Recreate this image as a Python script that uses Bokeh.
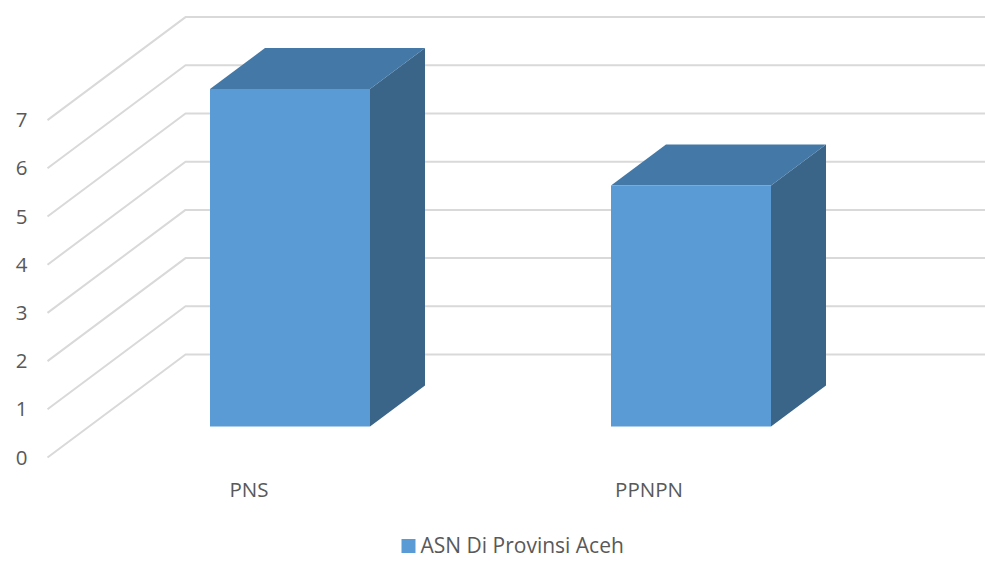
from bokeh.plotting import figure
from bokeh.embed import file_html
from bokeh.resources import INLINE
from bokeh.core.properties import value

categories = ["PNS", "PPNPN"]
series_values = [7, 5]
series_name = "ASN Di Provinsi Aceh"
tick_values = [0, 1, 2, 3, 4, 5, 6, 7]

# scale: one category step = 401 px, one value unit = 48.2 px
CAT_PX = 401.0
VAL_PX = 48.2
X0 = 289.5   # picture px of first category
Y0 = 426.0   # picture px of value 0 at bar front
W, H = 985, 563

def cx(px):
    return (px - X0) / CAT_PX

def vy(py):
    return (Y0 - py) / VAL_PX

half = 80.0 / CAT_PX
bar_dx = 55 / CAT_PX
bar_dy = 41 / VAL_PX
wall_x = cx(185)
front_x = cx(47)
front_y = vy(457)
back_y = vy(354)
end_x = cx(985)

p = figure(width=W, height=H, output_backend="svg", toolbar_location=None,
           x_range=(cx(0), cx(W)), y_range=(vy(H), vy(0)),
           min_border=0, min_border_left=0, min_border_right=0,
           min_border_top=0, min_border_bottom=0)
p.axis.visible = False
p.grid.visible = False
p.outline_line_color = None

GRID = "#d9d9d9"
for v in tick_values:
    p.line([front_x, wall_x, end_x],
           [front_y + v, back_y + v, back_y + v],
           line_color=GRID, line_width=2)

FACE = "#5b9bd5"
TOP = "#4478a6"
SIDE = "#3a6488"
for i, val in enumerate(series_values):
    l, r = i - half, i + half
    p.patch([r, r + bar_dx, r + bar_dx, r],
            [0, bar_dy, val + bar_dy, val], fill_color=SIDE, line_color=None)
    p.patch([l, r, r + bar_dx, l + bar_dx],
            [val, val, val + bar_dy, val + bar_dy], fill_color=TOP, line_color=None)
    p.quad(left=l, right=r, bottom=0, top=val, fill_color=FACE, line_color=None)

TXT = "#595959"
FONT = value("Open Sans")
p.text([cx(21)] * len(tick_values), [front_y + v for v in tick_values],
       text=[str(v) for v in tick_values], text_font=FONT, text_font_size="20.5px",
       text_color=TXT, text_align="center", text_baseline="middle")
p.text([cx(248.5), cx(648.5)], [vy(488)] * 2, text=categories, text_font=FONT,
       text_font_size="20.5px", text_color=TXT, text_align="center", text_baseline="middle")
p.text([cx(420)], [vy(544)], text=[series_name], text_font=FONT, text_font_size="21px",
       text_color=TXT, text_align="left", text_baseline="middle")
p.quad(left=cx(401), right=cx(415), bottom=vy(552.5), top=vy(538.5), fill_color=FACE, line_color=None)

open("out.html", "w").write(file_html(p, INLINE))
